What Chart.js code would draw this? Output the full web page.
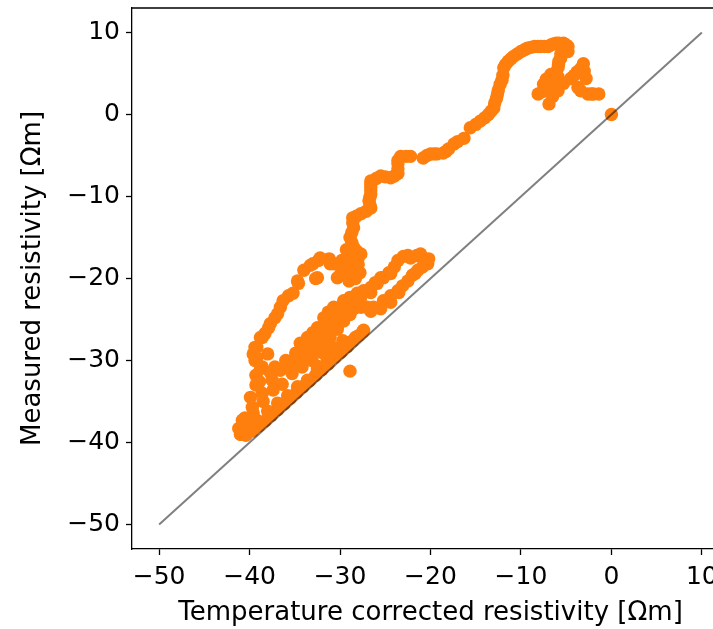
<!DOCTYPE html>
<html lang="en">
<head>
  <meta charset="UTF-8">
  <title>Measured vs corrected resistivity</title>
  <script src="https://cdn.jsdelivr.net/npm/chart.js"></script>
  <style>
    html, body {
      margin: 0;
      padding: 0;
      background: #fff;
      overflow: hidden;
    }
    /* a bit wider than the window: the right edge of the axes is cut off like in the original */
    .chart-box {
      position: relative;
      width: 745px;
      height: 629px;
    }
  </style>
</head>
<body>
  <div class="chart-box">
    <canvas id="resChart"></canvas>
  </div>

  <script>
    // x = temperature corrected resistivity, y = measured resistivity (Ωm)

    // cluster near the top, the rise and the plateau
    const topX = [
      0.0, -1.4, -2.0, -2.6, -3.4, -3.7, -2.8, -3.0, -3.1, -3.8,
      -4.5, -5.3, -5.9, -6.5, -6.9, -7.6, -8.1, -7.5, -7.2, -6.7,
      -6.3, -5.9, -5.8, -5.6, -4.8, -4.8, -5.3, -5.8, -6.4, -7.0,
      -7.8, -8.5, -9.3, -10.0, -10.8, -11.4, -11.9, -12.0, -12.3, -12.5,
      -12.7, -13.0, -13.6, -14.5, -15.6, -7.0, -6.2, -5.9, -5.85, -5.6,
      -5.0, -6.1, -6.7, -7.4, -8.1, -8.9, -9.6, -10.4, -11.1, -11.7,
      -12.1, -12.6, -12.9, -13.3, -14.0, -15.0, -4.1, -3.4, -2.2
    ];
    const topY = [
      0.0, 2.5, 2.5, 2.5, 2.9, 3.3, 4.4, 5.3, 6.2, 5.2,
      4.4, 3.8, 2.9, 2.2, 1.3, 2.8, 2.5, 3.7, 4.3, 4.9,
      5.0, 5.7, 6.5, 7.4, 7.7, 8.3, 8.7, 8.7, 8.6, 8.3,
      8.3, 8.3, 8.1, 7.7, 7.1, 6.5, 5.7, 4.8, 3.7, 3.0,
      2.0, 0.8, 0.0, -0.8, -1.6, 3.3, 3.6, 4.6, 6.1, 6.9,
      8.5, 8.7, 8.5, 8.3, 8.3, 8.2, 7.9, 7.4, 6.8, 6.1,
      4.2, 2.5, 1.4, 0.4, -0.4, -1.2, 4.8, 5.6, 2.5
    ];

    // long descent down to -16
    const descentX = [
      -16.3, -17.0, -17.4, -18.0, -18.3, -18.6, -19.3, -19.6, -20.0, -20.4,
      -20.8, -22.2, -22.7, -23.3, -23.6, -23.6, -23.6, -23.6, -24.0, -24.4,
      -25.0, -25.5, -26.0, -26.6, -26.6, -26.6, -26.6, -26.6, -26.7, -26.8,
      -26.7, -26.6, -27.1, -27.7, -28.2, -28.6, -28.6, -28.5, -28.7, -28.9,
      -28.7, -28.5
    ];
    const descentY = [
      -2.9, -3.3, -3.6, -4.2, -4.5, -4.7, -4.8, -4.8, -4.8, -5.0,
      -5.3, -5.1, -5.1, -5.1, -5.6, -6.0, -6.6, -7.2, -7.5, -7.7,
      -7.6, -7.5, -7.8, -8.1, -8.5, -8.9, -9.3, -9.7, -10.1, -10.5,
      -11.0, -11.4, -11.8, -12.1, -12.4, -12.6, -13.2, -13.8, -14.4, -15.0,
      -15.6, -16.2
    ];

    // blob at -29/-18 and the loop on the left
    const loopX = [
      -27.7, -28.9, -28.0, -27.8, -28.8, -29.9, -30.7, -29.8, -31.2, -32.2,
      -33.0, -32.5, -34.0, -34.7, -35.2, -36.3, -36.9, -37.7, -38.3, -38.8,
      -39.4, -39.6, -39.4, -38.6, -38.0, -37.2, -36.0, -34.9, -33.8, -32.7,
      -31.6, -28.0, -28.9, -31.1, -32.4, -33.3, -32.7, -34.6, -35.7, -36.6,
      -37.2, -37.9, -38.6, -39.2, -39.2, -38.8, -37.7, -36.6, -35.7, -34.9,
      -34.1, -33.1, -32.4, -31.4, -30.7, -30.0, -28.9, -27.7, -26.6, -25.9,
      -25.2, -24.6, -23.6, -22.5, -21.1, -20.2, -29.3, -28.3, -29.5, -28.5,
      -29.0, -30.3, -28.2, -39.3, -38.9
    ];
    const loopY = [
      -17.0, -17.5, -18.3, -19.3, -19.0, -19.4, -18.2, -17.8, -17.6, -17.5,
      -18.2, -19.9, -19.0, -20.3, -21.8, -22.7, -24.3, -25.5, -26.7, -27.2,
      -28.4, -29.2, -30.0, -30.8, -29.2, -30.8, -30.0, -29.1, -28.4, -27.6,
      -27.2, -17.5, -19.3, -18.2, -17.8, -18.4, -20.0, -20.6, -22.1, -23.5,
      -24.8, -26.0, -27.2, -28.4, -29.7, -31.0, -31.5, -31.2, -30.4, -29.6,
      -28.8, -27.8, -26.7, -25.7, -24.8, -23.7, -22.9, -22.3, -21.7, -20.6,
      -19.9, -19.3, -17.8, -17.2, -17.0, -17.6, -16.5, -20.0, -18.8, -18.5,
      -20.3, -19.9, -16.6, -31.8, -32.6
    ];

    // right arm, upper strand
    const armUpX = [
      -34.4, -33.6, -33.0, -32.5, -31.8, -31.3, -30.7, -29.6, -28.9, -28.1,
      -27.4, -26.6, -26.1, -25.5, -24.4, -24.0, -23.0, -22.2, -21.5, -20.8
    ];
    const armUpY = [
      -27.9, -27.2, -26.6, -26.0, -24.8, -24.1, -23.5, -22.7, -22.3, -21.8,
      -21.5, -21.1, -20.5, -19.9, -19.4, -18.6, -17.3, -17.5, -17.2, -17.5
    ];

    // right arm, lower strand
    const armLowX = [
      -20.3, -20.9, -21.4, -22.0, -22.5, -23.1, -23.6, -24.4, -25.2, -26.3,
      -27.0, -27.7, -28.5, -29.2, -30.3, -31.1, -32.2, -21.7, -23.5, -24.4,
      -25.5, -26.6, -28.9, -29.6, -30.3, -31.1, -31.8, -32.7, -33.6, -34.4,
      -35.2
    ];
    const armLowY = [
      -18.2, -18.6, -19.0, -19.6, -20.3, -20.9, -21.5, -22.1, -22.7, -23.5,
      -23.5, -23.5, -23.7, -23.9, -24.8, -26.0, -27.2, -19.4, -21.7, -22.9,
      -23.7, -24.0, -24.4, -25.2, -26.2, -27.2, -27.9, -29.0, -29.7, -30.3,
      -30.8
    ];

    // tail running down to the bottom left
    const tailX = [
      -29.7, -30.8, -31.9, -33.1, -34.2, -35.3, -36.4, -37.5, -38.6, -39.7,
      -40.8, -31.0, -32.5, -37.4, -38.5, -39.6, -40.5, -39.3, -39.9
    ];
    const tailY = [
      -27.6, -28.4, -29.1, -30.0, -30.8, -31.6, -32.9, -32.4, -34.0, -35.7,
      -37.3, -29.3, -30.7, -33.6, -35.0, -36.4, -37.0, -33.0, -34.5
    ];

    // points sitting on the 1:1 line
    const lineBandX = [
      -27.4, -28.0, -28.6, -29.2, -29.9, -30.6, -31.3, -32.0, -32.7, -33.4,
      -34.1, -34.8, -35.5, -36.2, -36.9, -37.6, -38.3, -39.0, -39.7, -40.4,
      -41.0, -40.8, -39.9, -27.5, -28.3, -29.2, -30.3, -31.4, -32.5, -33.6,
      -34.7, -35.8, -36.9, -38.0, -39.2, -40.3, -41.0, -40.4, -41.2, -40.0,
      -39.2
    ];
    const lineBandY = [
      -26.3, -27.0, -27.6, -28.3, -29.0, -29.6, -30.4, -31.1, -31.8, -32.5,
      -33.2, -33.9, -34.6, -35.3, -36.0, -36.7, -37.4, -38.0, -38.6, -39.1,
      -39.0, -38.3, -37.7, -26.5, -27.2, -27.9, -29.0, -30.0, -31.0, -32.4,
      -33.2, -34.3, -35.2, -36.2, -37.3, -38.3, -39.0, -39.1, -38.3, -38.2,
      -38.0
    ];

    // the stray point below the band
    const strayX = [-28.9];
    const strayY = [-31.3];

    // 1:1 reference line
    const refX = [-50, 10];
    const refY = [-50, 10];

    const xTicks = [-50, -40, -30, -20, -10, 0, 10];
    const yTicks = [-50, -40, -30, -20, -10, 0, 10];

    const FONT = "'DejaVu Sans', sans-serif";
    const minusFmt = v => v < 0 ? '\u2212' + Math.abs(v) : String(v);

    const allX = topX.concat(descentX, loopX, armUpX, armLowX, tailX, lineBandX, strayX);
    const allY = topY.concat(descentY, loopY, armUpY, armLowY, tailY, lineBandY, strayY);
    const points = allX.map((x, i) => ({ x: x, y: allY[i] }));
    const refLine = refX.map((x, i) => ({ x: x, y: refY[i] }));

    // matplotlib style box: top and right spines
    const frame = {
      id: 'frame',
      afterDraw(chart) {
        const { ctx, chartArea: a } = chart;
        ctx.save();
        ctx.strokeStyle = '#000';
        ctx.lineWidth = 1.3;
        ctx.beginPath();
        ctx.moveTo(a.left, a.top);
        ctx.lineTo(a.right, a.top);
        ctx.lineTo(a.right, a.bottom);
        ctx.stroke();
        ctx.restore();
      }
    };

    const axisBase = {
      type: 'linear',
      min: -53,
      max: 13,
      grid: { drawOnChartArea: false, color: '#000', tickLength: 6, tickWidth: 1.3 },
      border: { color: '#000', width: 1.3 },
      ticks: {
        color: '#000',
        font: { family: FONT, size: 25 },
        padding: 7,
        autoSkip: false,
        maxRotation: 0,
        callback: v => minusFmt(v)
      }
    };

    const ctx = document.getElementById('resChart').getContext('2d');
    new Chart(ctx, {
      type: 'scatter',
      data: {
        datasets: [
          {
            data: refLine,
            showLine: true,
            borderColor: 'rgba(0,0,0,0.5)',
            borderWidth: 2,
            pointRadius: 0,
            order: 0
          },
          {
            data: points,
            backgroundColor: '#ff7f0e',
            borderWidth: 0,
            pointRadius: 6.7,
            pointHoverRadius: 6.7,
            order: 1
          }
        ]
      },
      options: {
        responsive: true,
        maintainAspectRatio: false,
        animation: false,
        events: [],
        layout: { autoPadding: false, padding: { top: 8, right: 16, left: 0, bottom: 0 } },
        plugins: {
          legend: { display: false },
          tooltip: { enabled: false }
        },
        scales: {
          x: {
            ...axisBase,
            afterBuildTicks: s => { s.ticks = xTicks.map(v => ({ value: v })); },
            afterFit: s => {
              s.height = 80;
              s.paddingLeft = 0;
              s.paddingRight = 0;
            },
            title: {
              display: true,
              text: 'Temperature corrected resistivity [Ωm]',
              color: '#000',
              font: { family: FONT, size: 26 },
              padding: { top: 0, bottom: 0 }
            }
          },
          y: {
            ...axisBase,
            ticks: { ...axisBase.ticks, padding: 6 },
            afterBuildTicks: s => { s.ticks = yTicks.map(v => ({ value: v })); },
            afterFit: s => {
              s.width = 132;
              s.paddingTop = 0;
              s.paddingBottom = 0;
            },
            title: {
              display: true,
              text: 'Measured resistivity [Ωm]',
              color: '#000',
              font: { family: FONT, size: 26 },
              padding: { top: 18, bottom: 0 }
            }
          }
        }
      },
      plugins: [frame]
    });
  </script>
</body>
</html>
